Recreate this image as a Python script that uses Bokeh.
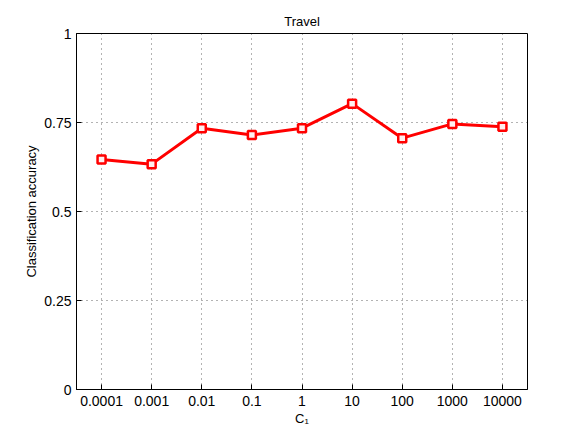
from bokeh.plotting import figure
from bokeh.models import FixedTicker, Range1d
from bokeh.embed import file_html
from bokeh.resources import INLINE

title_text = "Travel"
c_labels = ["0.0001", "0.001", "0.01", "0.1", "1", "10", "100", "1000", "10000"]
accuracy = [0.646, 0.633, 0.734, 0.715, 0.734, 0.803, 0.706, 0.746, 0.738]
y_ticks = [0, 0.25, 0.5, 0.75, 1]
y_tick_labels = ["0", "0.25", "0.5", "0.75", "1"]

xs = list(range(1, len(c_labels) + 1))
FONT = "Liberation Sans"

p = figure(frame_width=451, frame_height=356, output_backend="svg", toolbar_location=None,
           x_range=Range1d(0.5, len(c_labels) + 0.5), y_range=Range1d(0, 1),
           min_border_left=76, min_border_right=46, min_border_top=33, min_border_bottom=40,
           title=title_text)
p.title.align = "center"
p.title.text_font = FONT
p.title.text_font_size = "13px"
p.title.text_font_style = "normal"
p.title.text_color = "black"
p.outline_line_color = "black"
p.outline_line_width = 1
p.background_fill_color = "white"
p.border_fill_color = "white"

xax = p.below[0]
yax = p.left[0]
for ax in (xax, yax):
    ax.major_tick_in = 5
    ax.major_tick_out = 0
    ax.minor_tick_line_color = None
    ax.major_label_text_font = FONT
    ax.major_label_text_font_size = "14px"
    ax.major_label_text_color = "black"
    ax.axis_label_text_font = FONT
    ax.axis_label_text_font_size = "13px"
    ax.axis_label_text_font_style = "normal"
    ax.axis_label_text_color = "black"
    ax.axis_line_color = "black"
    ax.major_tick_line_color = "black"

xax.ticker = FixedTicker(ticks=xs)
xax.major_label_overrides = {x: l for x, l in zip(xs, c_labels)}
xax.axis_label = "C\u2081"
xax.major_label_standoff = 6
xax.axis_label_standoff = 2
yax.ticker = FixedTicker(ticks=y_ticks)
yax.major_label_overrides = {t: l for t, l in zip(y_ticks, y_tick_labels)}
yax.axis_label = "Classification accuracy"
yax.major_label_standoff = 5
yax.axis_label_standoff = 2

p.xgrid.ticker = FixedTicker(ticks=xs)
p.ygrid.ticker = FixedTicker(ticks=y_ticks)
for g in (p.xgrid[0], p.ygrid[0]):
    g.grid_line_color = "black"
    g.grid_line_alpha = 0.6
    g.grid_line_dash = "1 4"
    g.grid_line_width = 1

p.line(xs, accuracy, line_color="#ff0000", line_width=3)
p.scatter(xs, accuracy, marker="square", size=8, fill_color="#fff0f0",
          line_color="#ff0000", line_width=2.5)

out = file_html(p, INLINE)
open("out.html", "w").write(out)
